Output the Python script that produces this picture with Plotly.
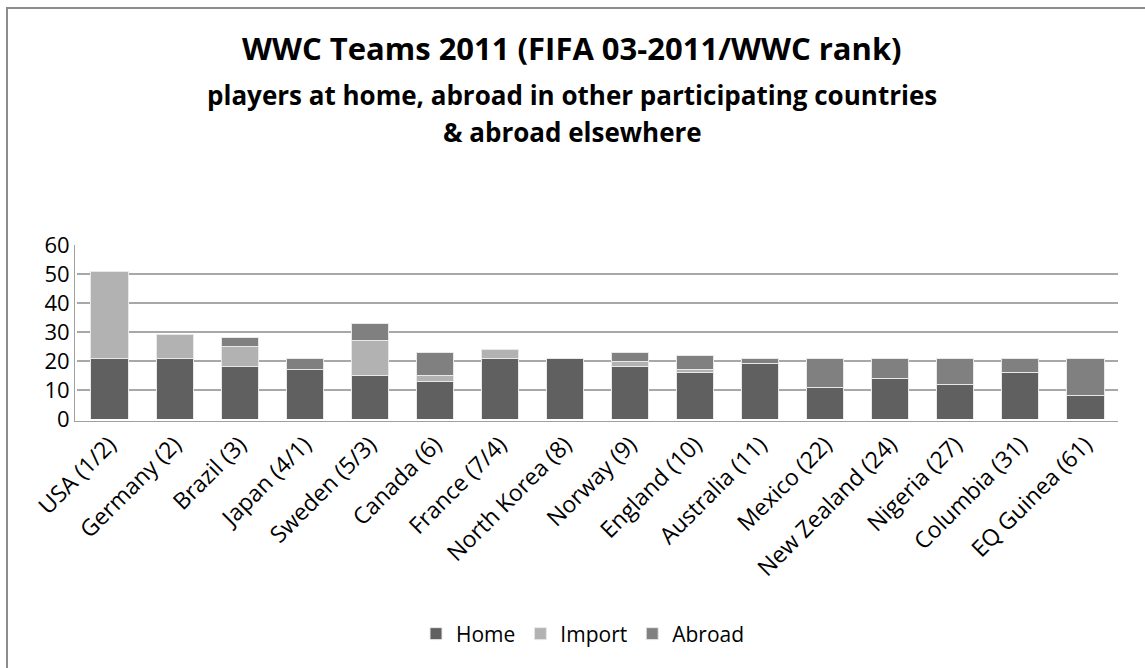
import plotly.graph_objects as go

teams = ["USA (1/2)", "Germany (2)", "Brazil (3)", "Japan (4/1)", "Sweden (5/3)",
         "Canada (6)", "France (7/4)", "North Korea (8)", "Norway (9)", "England (10)",
         "Australia (11)", "Mexico (22)", "New Zealand (24)", "Nigeria (27)",
         "Columbia (31)", "EQ Guinea (61)"]
home =   [21, 21, 18, 17, 15, 13, 21, 21, 18, 16, 19, 11, 14, 12, 16, 8]
imp =    [30, 8, 7, 0, 12, 2, 3, 0, 2, 1, 0, 0, 0, 0, 0, 0]
abroad = [0, 0, 3, 4, 6, 8, 0, 0, 3, 5, 2, 10, 7, 9, 5, 13]
yticks = [0, 10, 20, 30, 40, 50, 60]

FONT = "'Open Sans', Lato, sans-serif"
W, H = 1145, 668
L, R, T, B = 77, 1118, 245, 419

def px(x):
    return (x - L) / (R - L)

def py(y):
    return (B - y) / (B - T)

fig = go.Figure()
for name, vals, col in [("Home", home, "#606060"), ("Import", imp, "#b2b2b2"), ("Abroad", abroad, "#808080")]:
    fig.add_trace(go.Bar(name=name, x=teams, y=vals, marker=dict(color=col, line=dict(color="#e8e8e8", width=1))))

fig.update_layout(
    barmode="stack",
    bargap=0.43,
    width=W, height=H,
    margin=dict(l=L, r=W - R, t=T, b=H - B, pad=2),
    paper_bgcolor="white", plot_bgcolor="white",
    font=dict(family=FONT, size=20, color="#000000"),
    showlegend=True,
    legend=dict(orientation="h", x=px(583), xanchor="center", y=py(634), yanchor="middle",
                font=dict(size=21), traceorder="normal", itemwidth=30),
    xaxis=dict(tickangle=-45, showline=True, linecolor="#a0a0a0", linewidth=1,
               ticks="", tickfont=dict(size=23), showgrid=False),
    yaxis=dict(range=[0, 60], tickvals=yticks, showgrid=True, gridcolor="#a8a8a8", gridwidth=1.5,
               showline=True, linecolor="#a0a0a0", linewidth=1, ticks="", zeroline=False,
               tickfont=dict(size=22)),
    shapes=[dict(type="rect", xref="paper", yref="paper", x0=px(7), x1=px(1160), y0=py(690), y1=py(8),
                 line=dict(color="#8c8c8c", width=2), fillcolor="rgba(0,0,0,0)", layer="below")],
    annotations=[
        dict(text="<b>WWC Teams 2011 (FIFA 03-2011/WWC rank)</b>", xref="paper", yref="paper",
             x=px(572), y=py(48), xanchor="center", yanchor="middle", showarrow=False, font=dict(size=31)),
        dict(text="<b>players at home, abroad in other participating countries</b>", xref="paper", yref="paper",
             x=px(572), y=py(95), xanchor="center", yanchor="middle", showarrow=False, font=dict(size=26)),
        dict(text="<b>&amp; abroad elsewhere</b>", xref="paper", yref="paper",
             x=px(572), y=py(132), xanchor="center", yanchor="middle", showarrow=False, font=dict(size=26)),
    ],
)

fig.write_html("out.html")
